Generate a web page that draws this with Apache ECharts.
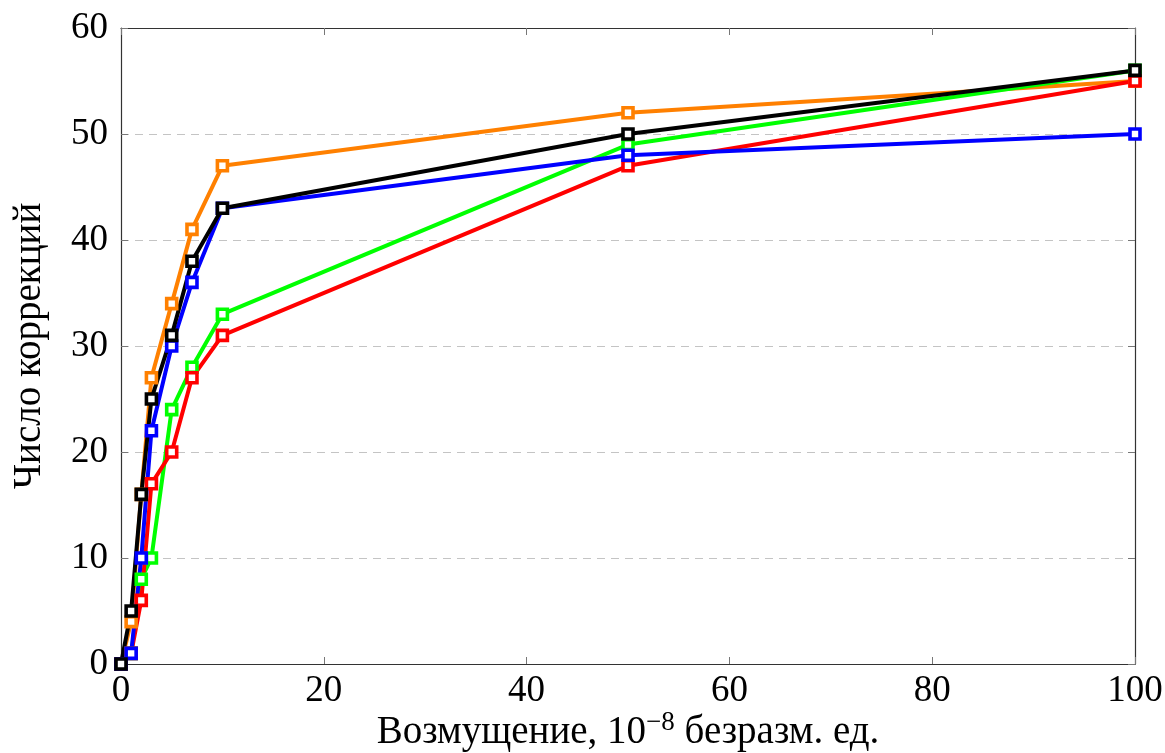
<!DOCTYPE html>
<html>
<head>
<meta charset="utf-8">
<script src="https://cdn.jsdelivr.net/npm/echarts@6/dist/echarts.min.js"></script>
<style>
  html, body { margin: 0; padding: 0; background: #fff; }
  #chart { width: 1165px; height: 753px; }
</style>
</head>
<body>
<div id="chart"></div>
<script>
// Perturbation magnitudes (x) shared by all series
const perturbation = [0, 1, 2, 3, 5, 7, 10, 50, 100];

// Number of corrections for each run
const orangeRun = [0, 4, 16, 27, 34, 41, 47, 52, 55];
const greenRun  = [0, 1, 8, 10, 24, 28, 33, 49, 56];
const redRun    = [0, 1, 6, 17, 20, 27, 31, 47, 55];
const blueRun   = [0, 1, 10, 22, 30, 36, 43, 48, 50];
const blackRun  = [0, 5, 16, 25, 31, 38, 43, 50, 56];

const xTicks = [0, 20, 40, 60, 80, 100];
const yTicks = [0, 10, 20, 30, 40, 50, 60];

const FONT = '"Liberation Serif", "DejaVu Serif", serif';

const runs = [
  { name: 'orange', color: '#ff8000', values: orangeRun },
  { name: 'green',  color: '#00ff00', values: greenRun },
  { name: 'red',    color: '#ff0000', values: redRun },
  { name: 'blue',   color: '#0000ff', values: blueRun },
  { name: 'black',  color: '#000000', values: blackRun }
];

const frameColor = '#333';

const chart = echarts.init(document.getElementById('chart'), null, { renderer: 'canvas' });

chart.setOption({
  backgroundColor: '#fff',
  animation: false,
  grid: {
    left: 121, right: 30, top: 28, bottom: 89,
    containLabel: false,
    outerBoundsMode: 'none'
  },
  xAxis: [
    {
      type: 'value', min: xTicks[0], max: xTicks[xTicks.length - 1], interval: 20,
      position: 'bottom',
      name: '{t|Возмущение, 10}{s|−8}{t| безразм. ед.}',
      nameLocation: 'middle', nameGap: 45, nameMoveOverlap: false,
      nameTextStyle: {
        rich: {
          t: { fontFamily: FONT, fontSize: 39, color: '#000', verticalAlign: 'bottom' },
          s: { fontFamily: FONT, fontSize: 27, color: '#000', verticalAlign: 'top', padding: [0, 0, 16, 0] }
        }
      },
      axisLine: { show: true, onZero: false, lineStyle: { color: frameColor, width: 1.2 } },
      axisTick: { show: true, inside: true, length: 7, lineStyle: { color: '#777', width: 1 } },
      axisLabel: { fontFamily: FONT, fontSize: 37, color: '#000', margin: 9 },
      splitLine: { show: false }
    },
    {
      type: 'value', min: 0, max: 100, interval: 20, position: 'top',
      axisLine: { show: true, onZero: false, lineStyle: { color: frameColor, width: 1.2 } },
      axisTick: { show: true, inside: true, length: 7, lineStyle: { color: '#777', width: 1 } },
      axisLabel: { show: false },
      splitLine: { show: false }
    }
  ],
  yAxis: [
    {
      type: 'value', min: yTicks[0], max: yTicks[yTicks.length - 1], interval: 10,
      position: 'left',
      name: 'Число коррекций',
      nameLocation: 'middle', nameGap: 72, nameRotate: 90, nameMoveOverlap: false,
      nameTextStyle: { fontFamily: FONT, fontSize: 39, color: '#000' },
      axisLine: { show: true, onZero: false, lineStyle: { color: frameColor, width: 1.2 } },
      axisTick: { show: true, inside: true, length: 7, lineStyle: { color: '#777', width: 1 } },
      axisLabel: { fontFamily: FONT, fontSize: 37, color: '#000', margin: 13 },
      splitLine: { show: true, lineStyle: { color: '#c4c4c4', width: 1.2, type: [8, 6] } }
    },
    {
      type: 'value', min: 0, max: 60, interval: 10, position: 'right',
      axisLine: { show: true, onZero: false, lineStyle: { color: frameColor, width: 1.2 } },
      axisTick: { show: true, inside: true, length: 7, lineStyle: { color: '#777', width: 1 } },
      axisLabel: { show: false },
      splitLine: { show: false }
    }
  ],
  series: runs.map(r => ({
    name: r.name,
    type: 'line',
    xAxisIndex: 0,
    yAxisIndex: 0,
    data: perturbation.map((x, i) => [x, r.values[i]]),
    symbol: 'rect',
    symbolSize: 10,
    showAllSymbol: true,
    clip: false,
    lineStyle: { color: r.color, width: 4 },
    itemStyle: { color: '#fff', borderColor: r.color, borderWidth: 3.6 },
    emphasis: { disabled: true }
  }))
});
</script>
</body>
</html>
